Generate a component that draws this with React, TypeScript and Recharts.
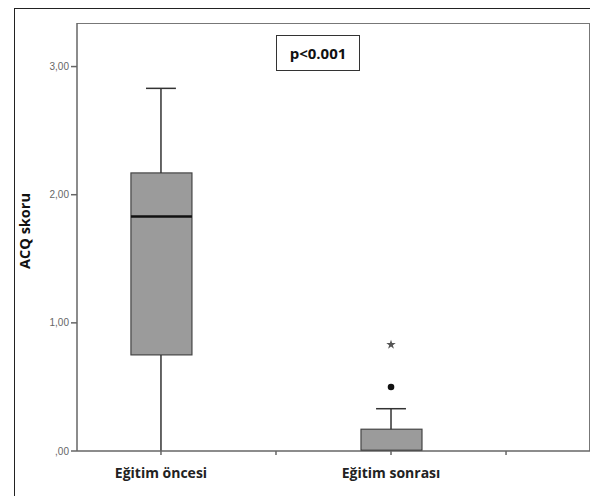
import React from "react";
import {
  ComposedChart,
  Bar,
  Scatter,
  XAxis,
  YAxis,
  ReferenceLine,
  Label,
  Symbols,
} from "recharts";

// axis categories (the empty ones are unlabeled tick positions)
const categories = ["Eğitim öncesi", "", "Eğitim sonrası", ""];
const tickPositions = [1, 2, 3, 4];
const yTicks = [0, 1, 2, 3];

// box plot summary per group
const groupPositions = [1, 3];
const mins = [0, 0];
const q1s = [0.75, 0];
const medians = [1.83, 0];
const q3s = [2.17, 0.17];
const maxs = [2.83, 0.33];

// outliers (Eğitim sonrası)
const circleOutliers = [{ x: 3, y: 0.5 }];
const extremeOutliers = [{ x: 3, y: 0.83 }];

const boxData = groupPositions.map((x, i) => ({
  x,
  box: [q1s[i], q3s[i]],
  q1: q1s[i],
  q3: q3s[i],
  median: medians[i],
}));

const CAP = 0.13;
const LINE = "#333";

const fmtY = (v: number) => {
  const s = v.toFixed(2).replace(".", ",");
  return s.startsWith("0") ? s.slice(1) : s;
};

function BoxShape(props: any) {
  const { x, y, width, height, payload } = props;
  const span = payload.q3 - payload.q1;
  const my = y + (height * (payload.q3 - payload.median)) / (span || 1);
  return (
    <g>
      <rect x={x} y={y} width={width} height={height} fill="#9b9b9b" stroke="#444" strokeWidth={1.2} />
      <line x1={x} x2={x + width} y1={my} y2={my} stroke="#111" strokeWidth={2.5} />
    </g>
  );
}

export default function App() {
  return (
    <div style={{ position: "relative", width: 590, height: 488, fontFamily: "'Open Sans', sans-serif" }}>
      <div
        style={{
          position: "absolute",
          left: 6,
          top: 0,
          width: 582,
          height: 500,
          borderLeft: "1.5px solid #222",
          borderTop: "1.5px solid #222",
          borderRight: "1.5px solid #222",
        }}
      />
      <div
        style={{
          position: "absolute",
          left: 69,
          top: 15,
          width: 513,
          height: 428,
          boxSizing: "border-box",
          borderTop: "1.5px solid #777",
          borderRight: "1.5px solid #777",
          pointerEvents: "none",
        }}
      />
      <div
        style={{
          position: "absolute",
          left: 268,
          top: 27,
          width: 84,
          height: 36,
          boxSizing: "border-box",
          border: "1.5px solid #333",
          display: "flex",
          alignItems: "center",
          justifyContent: "center",
          fontWeight: 700,
          fontSize: 15,
          color: "#111",
          background: "#fff",
        }}
      >
        p&lt;0.001
      </div>
      <ComposedChart
        width={590}
        height={488}
        data={boxData}
        margin={{ top: 15, right: 8, bottom: 0, left: 0 }}
        style={{ position: "absolute", left: 0, top: 0 }}
      >
        <XAxis
          dataKey="x"
          type="number"
          domain={[0.27, 4.73]}
          ticks={tickPositions}
          tickFormatter={(v: number) => categories[v - 1] ?? ""}
          height={45}
          axisLine={{ stroke: "#666", strokeWidth: 1.5 }}
          tickLine={{ stroke: "#666", strokeWidth: 1.5 }}
          tickSize={4}
          tick={{ fontSize: 14, fontWeight: 700, fill: "#222", dy: 11 }}
          allowDataOverflow
        />
        <YAxis
          type="number"
          domain={[0, 3.34]}
          ticks={yTicks}
          tickFormatter={fmtY}
          width={69}
          axisLine={{ stroke: "#666", strokeWidth: 1.5 }}
          tickLine={{ stroke: "#666", strokeWidth: 1.5 }}
          tickSize={6}
          tick={{ fontSize: 10, fill: "#666", fontFamily: "'Liberation Sans', Arial, sans-serif" }}
          allowDataOverflow
        >
          <Label
            value="ACQ skoru"
            angle={-90}
            position="insideLeft"
            offset={17}
            dy={-6}
            style={{ fontSize: 14.5, fontWeight: 700, fill: "#111", textAnchor: "middle" }}
          />
        </YAxis>
        {groupPositions.map((p, i) => (
          <ReferenceLine
            key={`lw${i}`}
            segment={[{ x: p, y: mins[i] }, { x: p, y: q1s[i] }]}
            stroke={LINE}
            strokeWidth={1.5}
          />
        ))}
        {groupPositions.map((p, i) => (
          <ReferenceLine
            key={`uw${i}`}
            segment={[{ x: p, y: q3s[i] }, { x: p, y: maxs[i] }]}
            stroke={LINE}
            strokeWidth={1.5}
          />
        ))}
        {groupPositions.map((p, i) => (
          <ReferenceLine
            key={`cap${i}`}
            segment={[{ x: p - CAP, y: maxs[i] }, { x: p + CAP, y: maxs[i] }]}
            stroke={LINE}
            strokeWidth={1.5}
          />
        ))}
        <Bar dataKey="box" barSize={61} shape={<BoxShape />} isAnimationActive={false} />
        <Scatter
          data={circleOutliers}
          dataKey="y"
          isAnimationActive={false}
          shape={(p: any) => <circle cx={p.cx} cy={p.cy} r={3.3} fill="#111" />}
        />
        <Scatter
          data={extremeOutliers}
          dataKey="y"
          isAnimationActive={false}
          shape={(p: any) => <Symbols cx={p.cx} cy={p.cy} type="star" size={28} fill="#555" />}
        />
      </ComposedChart>
    </div>
  );
}
